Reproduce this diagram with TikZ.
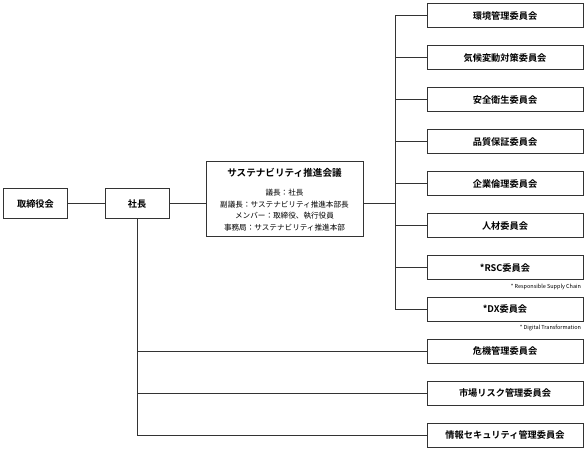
\documentclass[tikz,border=0pt]{standalone}
\usepackage{fontspec}
\setmainfont{Noto Sans CJK JP}[BoldFont={* Bold}]
\begin{document}
\begin{tikzpicture}[x=1pt,y=-1pt,
  line width=1pt, draw=black!80,
  box/.style={draw, minimum width=156pt, minimum height=24pt, inner sep=0pt,
    font=\bfseries\fontsize{9.2}{10}\selectfont},
  topbox/.style={box, minimum width=64pt, minimum height=30pt},
  note/.style={font=\fontsize{5.5}{6}\selectfont, inner sep=0pt, anchor=north east}]
\useasboundingbox (0,0) rectangle (586,454);
\node[topbox] (board) at (35.5,204) {取締役会};
\node[topbox] (ceo) at (137,204) {社長};
\node[draw, minimum width=157pt, minimum height=75pt, inner sep=0pt, align=center,
  font=\fontsize{7.6}{11.5}\selectfont] (suscouncil) at (284.5,199.5)
  {{\bfseries\fontsize{9.6}{10}\selectfont サステナビリティ推進会議}\\[8pt]
   議長：社長\\副議長：サステナビリティ推進本部長\\メンバー：取締役、執行役員\\事務局：サステナビリティ推進本部};
\node[box] (comm1) at (505,15.5) {環境管理委員会};
\node[box] (comm2) at (505,58) {気候変動対策委員会};
\node[box] (comm3) at (505,100) {安全衛生委員会};
\node[box] (comm4) at (505,142) {品質保証委員会};
\node[box] (comm5) at (505,184) {企業倫理委員会};
\node[box] (comm6) at (505,226) {人材委員会};
\node[box] (comm7) at (505,268) {*RSC委員会};
\node[box] (comm8) at (505,309.5) {*DX委員会};
\node[box] (comm9) at (505,351) {危機管理委員会};
\node[box] (comm10) at (505,393) {市場リスク管理委員会};
\node[box] (comm11) at (505,435) {情報セキュリティ管理委員会};
\node[note] (note7) at ([xshift=-2pt,yshift=-3pt]comm7.south east) {* Responsible Supply Chain};
\node[note] (note8) at ([xshift=-2pt,yshift=-3pt]comm8.south east) {* Digital Transformation};
\coordinate (rbus) at (395,204);
\draw (board) -- (ceo);
\draw (ceo.east) -- (ceo.east -| suscouncil.west);
\draw (ceo.east -| suscouncil.east) -- (rbus);
\draw (comm1.west) -| (rbus);
\draw (comm2.west) -| (rbus);
\draw (comm3.west) -| (rbus);
\draw (comm4.west) -| (rbus);
\draw (comm5.west) -| (rbus);
\draw (comm6.west) -| (rbus);
\draw (comm7.west) -| (rbus);
\draw (comm8.west) -| (rbus);
\draw (comm9.west) -| (ceo.south);
\draw (comm10.west) -| (ceo.south);
\draw (comm11.west) -| (ceo.south);
\end{tikzpicture}
\end{document}
